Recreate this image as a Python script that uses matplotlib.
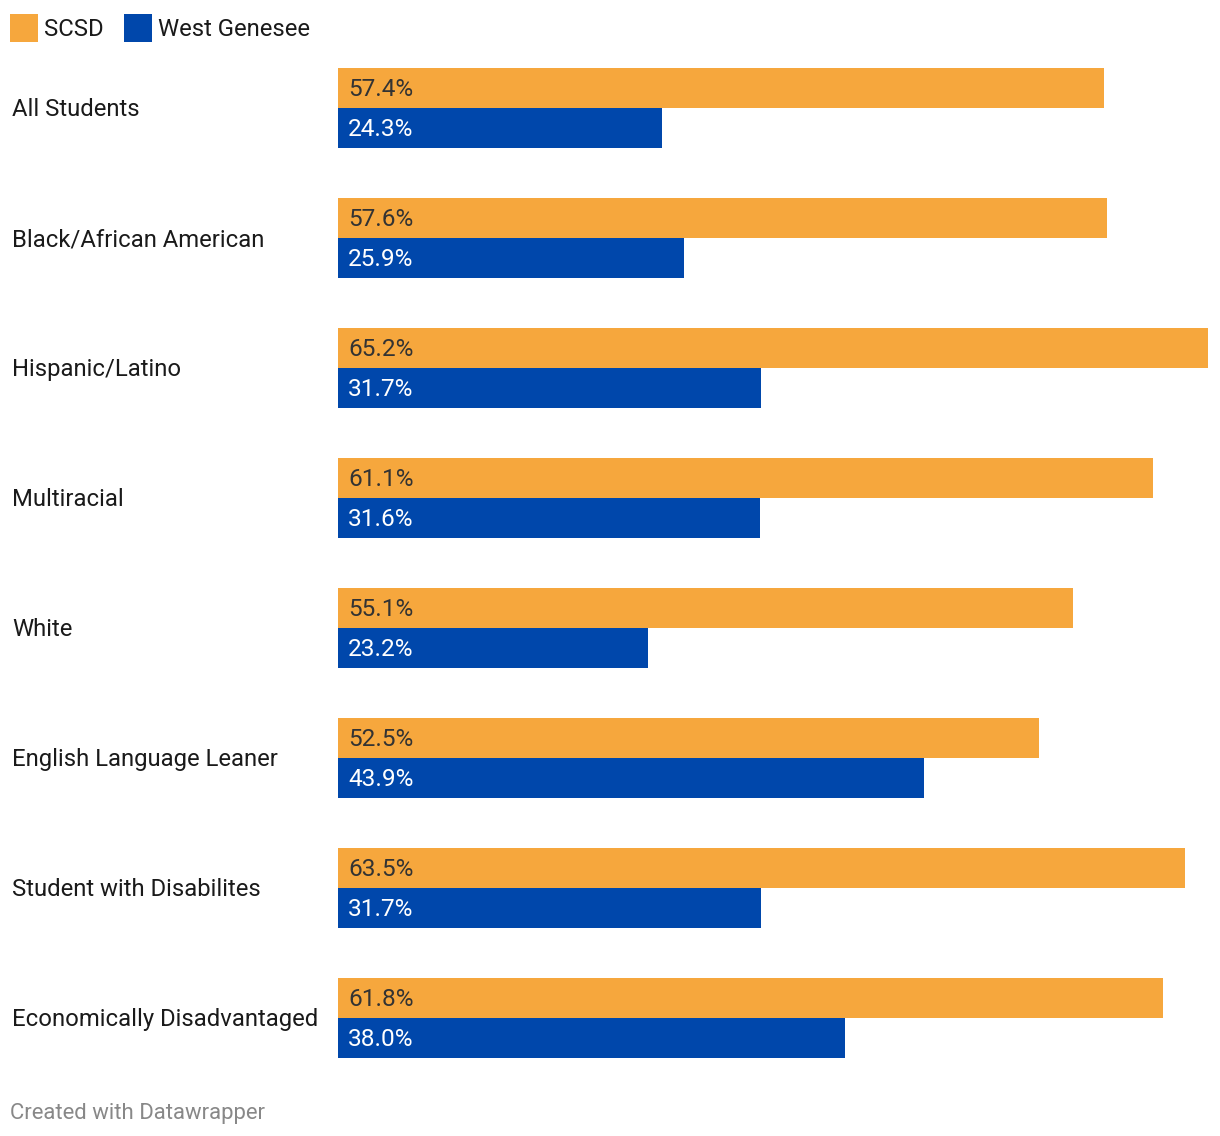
import matplotlib
matplotlib.use("Agg")
import matplotlib.pyplot as plt
from matplotlib.patches import Rectangle

plt.rcParams['font.family'] = ['Roboto', 'DejaVu Sans']

categories = ["All Students", "Black/African American", "Hispanic/Latino", "Multiracial",
              "White", "English Language Leaner", "Student with Disabilites",
              "Economically Disadvantaged"]
scsd = [57.4, 57.6, 65.2, 61.1, 55.1, 52.5, 63.5, 61.8]
west_genesee = [24.3, 25.9, 31.7, 31.6, 23.2, 43.9, 31.7, 38.0]
series_names = ["SCSD", "West Genesee"]
colors = ["#F6A73D", "#0047AB"]
text_colors = ["#333333", "#ffffff"]

W, H = 1220, 1136
fig = plt.figure(figsize=(W / 100, H / 100), dpi=100)

# axes in pixel layout
ax_left, ax_right, ax_top, ax_bottom = 338, 1208, 68, 1058
ax = fig.add_axes([ax_left / W, 1 - ax_bottom / H, (ax_right - ax_left) / W, (ax_bottom - ax_top) / H])
group_px = 130.0
bar_px = 40.0
bh = bar_px / group_px
n = len(categories)
ax.set_xlim(0, max(scsd))
ax.set_ylim((n - 1) + 2 * bh, 0)
ax.axis('off')

fs_cat = 17.2
fs_val = 17.6
dy = 1.0 / group_px  # 1px upward nudge
for i, cat in enumerate(categories):
    for j, vals in enumerate([scsd, west_genesee]):
        y0 = i + j * bh
        ax.barh(y0, vals[i], height=bh, align='edge', color=colors[j], linewidth=0)
        ax.text(0.75, y0 + bh / 2 - dy, f"{vals[i]:.1f}%", va='center_baseline', ha='left',
                fontsize=fs_val, color=text_colors[j])
    # category label
    fig.text(12 / W, 1 - (ax_top + i * group_px + bar_px - 1) / H, cat, ha='left',
             va='center_baseline', fontsize=fs_cat, color='#1a1a1a')

# legend
lx = [10, 124]
for k, name in enumerate(series_names):
    fig.patches.append(Rectangle((lx[k] / W, 1 - 42 / H), 28 / W, 28 / H,
                                 transform=fig.transFigure, color=colors[k], linewidth=0))
    fig.text((lx[k] + 34) / W, 1 - 26.5 / H, name, ha='left', va='center_baseline',
             fontsize=fs_cat, color='#1a1a1a')

fig.text(10 / W, 1 - 1110.5 / H, "Created with Datawrapper", ha='left', va='center_baseline',
         fontsize=15.9, color='#888888')

fig.savefig("out.png", dpi=100, facecolor='white')
